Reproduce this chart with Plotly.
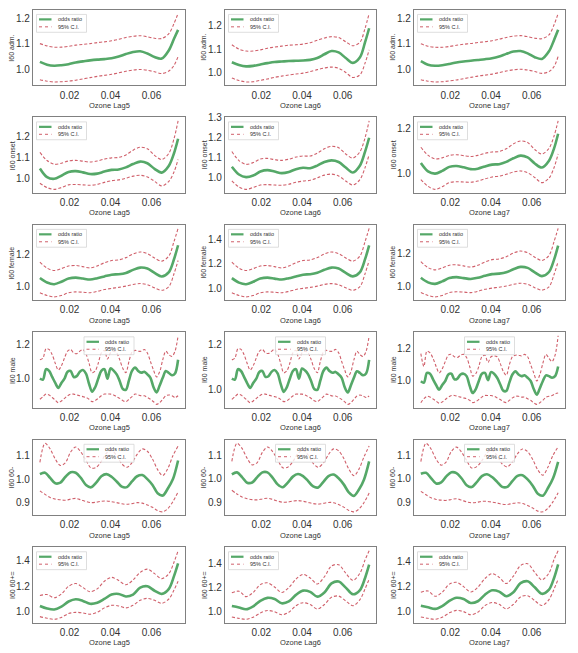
import plotly.graph_objects as go

W, H = 578, 653
GREEN = "#55a868"
RED = "#d0606b"
FRAME = "#808080"
TXT = "#333333"
FONT = "Liberation Sans, Arial, sans-serif"

# ---------------- x grids (ozone concentration) ----------------
X_SMOOTH = [0.0055, 0.009, 0.0125, 0.016, 0.0195, 0.023, 0.0265, 0.030, 0.0335, 0.037,
            0.0405, 0.044, 0.0475, 0.051, 0.0545, 0.058, 0.0615, 0.065, 0.0685, 0.071, 0.073]
X_MALE = [0.0055, 0.007, 0.0085, 0.01, 0.0115, 0.013, 0.0145, 0.016, 0.0175, 0.019,
          0.0205, 0.022, 0.0235, 0.025, 0.0265, 0.028, 0.0295, 0.031, 0.0325, 0.034,
          0.0355, 0.037, 0.0385, 0.04, 0.0415, 0.043, 0.0445, 0.046, 0.0475, 0.049,
          0.0505, 0.052, 0.0535, 0.055, 0.0565, 0.058, 0.0595, 0.061, 0.0625, 0.064,
          0.0655, 0.067, 0.0685, 0.07, 0.0715, 0.073]
X_60M = [0.0055, 0.008, 0.0105, 0.013, 0.0155, 0.018, 0.0205, 0.023, 0.0255, 0.028,
         0.0305, 0.033, 0.0355, 0.038, 0.0405, 0.043, 0.0455, 0.048, 0.0505, 0.053,
         0.0555, 0.058, 0.0605, 0.063, 0.0655, 0.068, 0.0705, 0.073]

# ---------------- I60 adm. ----------------
ADM_L5_OR = [1.029, 1.018, 1.014, 1.016, 1.020, 1.027, 1.031, 1.035, 1.038, 1.040, 1.043, 1.050, 1.060, 1.068, 1.071, 1.062, 1.048, 1.042, 1.075, 1.12, 1.155]
ADM_L5_HI = [1.101, 1.092, 1.087, 1.087, 1.090, 1.095, 1.098, 1.101, 1.105, 1.108, 1.112, 1.118, 1.125, 1.130, 1.132, 1.128, 1.122, 1.121, 1.14, 1.18, 1.22]
ADM_L5_LO = [0.959, 0.953, 0.950, 0.951, 0.953, 0.957, 0.962, 0.967, 0.972, 0.976, 0.980, 0.986, 0.992, 0.997, 0.999, 0.996, 0.990, 0.983, 0.993, 1.015, 1.05]
ADM_L6_OR = [1.044, 1.032, 1.026, 1.028, 1.034, 1.040, 1.045, 1.047, 1.049, 1.050, 1.051, 1.054, 1.062, 1.078, 1.092, 1.086, 1.062, 1.041, 1.065, 1.13, 1.19]
ADM_L6_HI = [1.119, 1.10, 1.092, 1.092, 1.097, 1.104, 1.109, 1.113, 1.117, 1.119, 1.122, 1.128, 1.138, 1.148, 1.154, 1.150, 1.132, 1.115, 1.13, 1.19, 1.254]
ADM_L6_LO = [0.976, 0.965, 0.959, 0.960, 0.966, 0.972, 0.979, 0.984, 0.989, 0.993, 0.997, 1.004, 1.012, 1.019, 1.023, 1.018, 1.000, 0.978, 0.99, 1.04, 1.097]
ADM_L7_OR = [1.031, 1.017, 1.013, 1.015, 1.020, 1.026, 1.030, 1.033, 1.036, 1.039, 1.043, 1.050, 1.060, 1.069, 1.071, 1.062, 1.047, 1.040, 1.07, 1.115, 1.155]
ADM_L7_HI = [1.10, 1.090, 1.086, 1.086, 1.089, 1.094, 1.098, 1.101, 1.105, 1.108, 1.112, 1.118, 1.125, 1.130, 1.132, 1.128, 1.122, 1.120, 1.135, 1.175, 1.22]
ADM_L7_LO = [0.958, 0.952, 0.949, 0.950, 0.953, 0.957, 0.962, 0.967, 0.972, 0.976, 0.980, 0.986, 0.992, 0.997, 0.999, 0.996, 0.990, 0.983, 0.99, 1.01, 1.05]

# ---------------- I60 onset ----------------
ONS_L5_OR = [1.047, 1.005, 0.997, 1.012, 1.030, 1.034, 1.028, 1.020, 1.022, 1.032, 1.040, 1.042, 1.052, 1.068, 1.080, 1.072, 1.045, 1.027, 1.06, 1.12, 1.19]
ONS_L5_HI = [1.124, 1.085, 1.067, 1.072, 1.083, 1.086, 1.082, 1.078, 1.083, 1.092, 1.098, 1.100, 1.112, 1.135, 1.149, 1.142, 1.110, 1.090, 1.12, 1.19, 1.276]
ONS_L5_LO = [0.976, 0.955, 0.946, 0.955, 0.968, 0.970, 0.968, 0.966, 0.970, 0.980, 0.988, 0.992, 1.000, 1.010, 1.014, 1.006, 0.985, 0.963, 0.985, 1.03, 1.09]
ONS_L6_OR = [1.054, 1.015, 1.002, 1.010, 1.030, 1.037, 1.030, 1.022, 1.028, 1.042, 1.049, 1.047, 1.060, 1.078, 1.086, 1.078, 1.050, 1.025, 1.06, 1.13, 1.20]
ONS_L6_HI = [1.131, 1.085, 1.066, 1.075, 1.093, 1.096, 1.090, 1.086, 1.092, 1.103, 1.108, 1.108, 1.122, 1.145, 1.157, 1.150, 1.118, 1.098, 1.13, 1.20, 1.285]
ONS_L6_LO = [0.983, 0.952, 0.940, 0.950, 0.962, 0.964, 0.962, 0.961, 0.966, 0.976, 0.982, 0.986, 0.998, 1.012, 1.017, 1.008, 0.982, 0.962, 0.99, 1.05, 1.115]
ONS_L7_OR = [1.045, 1.008, 0.998, 1.010, 1.028, 1.032, 1.026, 1.018, 1.020, 1.030, 1.038, 1.040, 1.050, 1.066, 1.078, 1.070, 1.043, 1.025, 1.055, 1.11, 1.175]
ONS_L7_HI = [1.115, 1.08, 1.063, 1.068, 1.079, 1.082, 1.078, 1.074, 1.079, 1.088, 1.094, 1.096, 1.108, 1.13, 1.143, 1.136, 1.105, 1.085, 1.11, 1.165, 1.232]
ONS_L7_LO = [0.972, 0.942, 0.928, 0.94, 0.958, 0.962, 0.961, 0.96, 0.965, 0.975, 0.983, 0.987, 0.995, 1.005, 1.01, 1.002, 0.981, 0.958, 0.978, 1.025, 1.085]

# ---------------- I60 female ----------------
FEM_L5_OR = [1.053, 1.025, 1.015, 1.030, 1.050, 1.056, 1.050, 1.044, 1.052, 1.063, 1.074, 1.077, 1.085, 1.104, 1.118, 1.112, 1.085, 1.063, 1.09, 1.17, 1.257]
FEM_L5_HI = [1.152, 1.115, 1.100, 1.112, 1.128, 1.131, 1.124, 1.116, 1.128, 1.148, 1.162, 1.166, 1.180, 1.203, 1.215, 1.205, 1.178, 1.158, 1.19, 1.28, 1.362]
FEM_L5_LO = [0.962, 0.945, 0.936, 0.945, 0.962, 0.967, 0.965, 0.962, 0.970, 0.982, 0.989, 0.995, 1.003, 1.013, 1.019, 1.012, 0.992, 0.977, 1.00, 1.08, 1.162]
FEM_L6_OR = [1.082, 1.045, 1.032, 1.052, 1.078, 1.086, 1.078, 1.070, 1.081, 1.096, 1.110, 1.114, 1.125, 1.150, 1.168, 1.160, 1.125, 1.096, 1.131, 1.237, 1.351]
FEM_L6_HI = [1.213, 1.164, 1.144, 1.160, 1.181, 1.185, 1.176, 1.165, 1.181, 1.208, 1.226, 1.231, 1.250, 1.280, 1.296, 1.283, 1.247, 1.221, 1.263, 1.382, 1.490]
FEM_L6_LO = [0.962, 0.940, 0.928, 0.940, 0.962, 0.969, 0.966, 0.962, 0.973, 0.989, 0.998, 1.006, 1.016, 1.030, 1.037, 1.028, 1.002, 0.982, 1.012, 1.118, 1.226]
FEM_L7_OR = [1.05, 1.022, 1.013, 1.028, 1.048, 1.054, 1.048, 1.043, 1.05, 1.062, 1.072, 1.075, 1.083, 1.102, 1.116, 1.11, 1.083, 1.06, 1.085, 1.16, 1.245]
FEM_L7_HI = [1.148, 1.112, 1.098, 1.11, 1.126, 1.129, 1.122, 1.115, 1.126, 1.146, 1.16, 1.164, 1.178, 1.2, 1.212, 1.202, 1.175, 1.155, 1.185, 1.27, 1.35]
FEM_L7_LO = [0.96, 0.943, 0.934, 0.943, 0.96, 0.965, 0.963, 0.96, 0.968, 0.98, 0.987, 0.993, 1.0, 1.01, 1.017, 1.01, 0.99, 0.975, 0.995, 1.07, 1.15]

# ---------------- I60 male ----------------
MAL_L5_OR = [1.0, 0.995, 1.055, 1.045, 1.01, 0.975, 0.946, 0.975, 1.0, 1.04, 1.045, 1.01, 1.015, 1.04, 1.05, 1.03,
             0.97, 0.924, 0.95, 1.0, 1.045, 1.055, 1.0, 1.06, 1.047, 1.025, 0.985, 0.94, 0.935, 0.99, 1.045, 1.065,
             1.045, 1.035, 1.04, 1.025, 1.005, 0.95, 0.92, 0.96, 1.005, 1.044, 1.033, 1.02, 1.03, 1.11]
MAL_L5_HI = [1.11, 1.12, 1.175, 1.17, 1.14, 1.09, 1.05, 1.075, 1.12, 1.16, 1.17, 1.15, 1.146, 1.16, 1.17, 1.145,
             1.09, 1.035, 1.045, 1.09, 1.15, 1.165, 1.115, 1.15, 1.16, 1.15, 1.11, 1.06, 1.035, 1.10, 1.155, 1.165,
             1.16, 1.16, 1.17, 1.15, 1.10, 1.05, 1.01, 1.04, 1.11, 1.16, 1.14, 1.13, 1.16, 1.25]
MAL_L5_LO = [0.88, 0.895, 0.91, 0.905, 0.89, 0.875, 0.86, 0.87, 0.885, 0.90, 0.91, 0.91, 0.905, 0.90, 0.895, 0.89,
             0.88, 0.866, 0.872, 0.885, 0.90, 0.91, 0.91, 0.91, 0.905, 0.895, 0.885, 0.872, 0.866, 0.88, 0.895, 0.91,
             0.905, 0.90, 0.90, 0.89, 0.88, 0.865, 0.85, 0.86, 0.88, 0.90, 0.905, 0.90, 0.89, 0.90]
MAL_L6_OR = [1.048, 1.044, 1.090, 1.082, 1.056, 1.029, 1.007, 1.029, 1.048, 1.078, 1.082, 1.056, 1.059, 1.078, 1.086, 1.071,
             1.025, 0.990, 1.010, 1.048, 1.082, 1.090, 1.048, 1.093, 1.084, 1.067, 1.037, 1.003, 0.999, 1.040, 1.082, 1.097,
             1.082, 1.074, 1.078, 1.067, 1.052, 1.010, 0.987, 1.018, 1.052, 1.081, 1.073, 1.063, 1.071, 1.131]
MAL_L6_HI = [1.131, 1.139, 1.180, 1.177, 1.154, 1.116, 1.086, 1.105, 1.139, 1.169, 1.177, 1.162, 1.159, 1.169, 1.177, 1.158,
             1.116, 1.074, 1.082, 1.116, 1.162, 1.173, 1.135, 1.162, 1.169, 1.162, 1.131, 1.093, 1.074, 1.124, 1.165, 1.173,
             1.169, 1.169, 1.177, 1.162, 1.124, 1.086, 1.056, 1.078, 1.131, 1.169, 1.154, 1.146, 1.169, 1.237]
MAL_L6_LO = [0.957, 0.969, 0.980, 0.976, 0.965, 0.953, 0.942, 0.950, 0.961, 0.972, 0.980, 0.980, 0.976, 0.972, 0.969, 0.965,
             0.957, 0.947, 0.951, 0.961, 0.972, 0.980, 0.980, 0.980, 0.976, 0.969, 0.961, 0.951, 0.947, 0.957, 0.969, 0.980,
             0.976, 0.972, 0.972, 0.965, 0.957, 0.946, 0.935, 0.942, 0.957, 0.972, 0.976, 0.972, 0.965, 0.972]
MAL_L7_OR = [0.998, 0.99, 1.05, 1.045, 1.01, 0.975, 0.946, 0.975, 1.0, 1.04, 1.045, 1.01, 1.015, 1.04, 1.045, 1.03,
             0.97, 0.925, 0.95, 1.0, 1.045, 1.05, 1.005, 1.055, 1.045, 1.02, 0.98, 0.94, 0.938, 0.99, 1.04, 1.06,
             1.04, 1.03, 1.035, 1.02, 1.0, 0.95, 0.915, 0.955, 1.0, 1.035, 1.03, 1.02, 1.03, 1.09]
MAL_L7_HI = [1.17, 1.09, 1.185, 1.175, 1.14, 1.09, 1.05, 1.075, 1.12, 1.16, 1.165, 1.15, 1.146, 1.16, 1.165, 1.145,
             1.09, 1.03, 1.045, 1.09, 1.15, 1.16, 1.115, 1.15, 1.155, 1.15, 1.11, 1.06, 1.035, 1.10, 1.15, 1.16,
             1.16, 1.155, 1.165, 1.15, 1.10, 1.05, 1.0, 1.04, 1.11, 1.165, 1.14, 1.12, 1.16, 1.28]
MAL_L7_LO = [0.865, 0.89, 0.905, 0.9, 0.888, 0.875, 0.862, 0.87, 0.885, 0.90, 0.91, 0.91, 0.905, 0.90, 0.895, 0.89,
             0.88, 0.866, 0.872, 0.885, 0.90, 0.91, 0.91, 0.91, 0.905, 0.895, 0.885, 0.872, 0.866, 0.88, 0.895, 0.905,
             0.905, 0.90, 0.90, 0.89, 0.88, 0.865, 0.855, 0.865, 0.88, 0.90, 0.905, 0.91, 0.92, 0.925]

# ---------------- I60 60- ----------------
U60_L5_OR = [1.021, 1.027, 1.005, 0.982, 0.985, 1.01, 1.029, 1.027, 1.005, 0.975, 0.965, 0.985, 1.012, 1.021,
             1.01, 0.99, 0.968, 0.966, 0.99, 1.012, 1.017, 1.0, 0.975, 0.94, 0.93, 0.96, 1.0, 1.079]
U60_L5_HI = [1.071, 1.152, 1.128, 1.085, 1.058, 1.07, 1.115, 1.136, 1.115, 1.08, 1.047, 1.05, 1.075, 1.11,
             1.121, 1.10, 1.065, 1.05, 1.07, 1.105, 1.128, 1.118, 1.085, 1.04, 1.015, 1.045, 1.10, 1.14]
U60_L5_LO = [0.95, 0.935, 0.922, 0.915, 0.912, 0.91, 0.915, 0.918, 0.912, 0.905, 0.90, 0.902, 0.906, 0.907,
             0.904, 0.90, 0.895, 0.893, 0.896, 0.90, 0.898, 0.89, 0.88, 0.866, 0.861, 0.875, 0.905, 0.945]
U60_L6_OR = [1.02, 1.028, 1.008, 0.984, 0.985, 1.008, 1.028, 1.028, 1.006, 0.977, 0.965, 0.984, 1.01, 1.021,
             1.012, 0.991, 0.968, 0.964, 0.988, 1.012, 1.019, 1.003, 0.977, 0.943, 0.928, 0.955, 0.998, 1.075]
U60_L6_HI = [1.075, 1.152, 1.13, 1.088, 1.06, 1.07, 1.113, 1.136, 1.117, 1.082, 1.048, 1.05, 1.074, 1.108,
             1.122, 1.102, 1.066, 1.05, 1.068, 1.104, 1.128, 1.12, 1.088, 1.042, 1.014, 1.042, 1.095, 1.14]
U60_L6_LO = [0.952, 0.936, 0.923, 0.916, 0.912, 0.911, 0.915, 0.918, 0.913, 0.906, 0.901, 0.902, 0.906, 0.908,
             0.905, 0.9, 0.895, 0.893, 0.896, 0.9, 0.899, 0.891, 0.88, 0.866, 0.86, 0.872, 0.9, 0.94]
U60_L7_OR = [1.022, 1.026, 1.004, 0.981, 0.986, 1.011, 1.028, 1.025, 1.003, 0.974, 0.966, 0.987, 1.012, 1.02,
             1.008, 0.988, 0.967, 0.967, 0.991, 1.013, 1.016, 0.998, 0.972, 0.938, 0.93, 0.962, 1.003, 1.072]
U60_L7_HI = [1.073, 1.15, 1.126, 1.083, 1.058, 1.072, 1.116, 1.134, 1.113, 1.078, 1.046, 1.052, 1.077, 1.11,
             1.12, 1.098, 1.063, 1.051, 1.072, 1.106, 1.126, 1.115, 1.082, 1.038, 1.016, 1.05, 1.1, 1.135]
U60_L7_LO = [0.948, 0.934, 0.921, 0.914, 0.911, 0.91, 0.914, 0.917, 0.911, 0.904, 0.9, 0.902, 0.906, 0.906,
             0.903, 0.899, 0.894, 0.893, 0.897, 0.9, 0.897, 0.889, 0.878, 0.865, 0.862, 0.877, 0.905, 0.942]

# ---------------- I60 60+= ----------------
O60_L5_OR = [1.045, 1.025, 1.017, 1.04, 1.08, 1.098, 1.085, 1.062, 1.07, 1.10, 1.135, 1.14, 1.12, 1.135, 1.19, 1.20, 1.165, 1.14, 1.18, 1.28, 1.38]
O60_L5_HI = [1.127, 1.135, 1.11, 1.14, 1.20, 1.222, 1.19, 1.157, 1.18, 1.24, 1.27, 1.245, 1.212, 1.25, 1.31, 1.335, 1.30, 1.26, 1.30, 1.39, 1.48]
O60_L5_LO = [0.961, 0.948, 0.940, 0.955, 0.985, 0.995, 0.990, 0.98, 0.995, 1.03, 1.05, 1.045, 1.03, 1.05, 1.09, 1.105, 1.09, 1.066, 1.10, 1.17, 1.24]
O60_L6_OR = [1.047, 1.035, 1.02, 1.045, 1.09, 1.115, 1.105, 1.07, 1.085, 1.14, 1.175, 1.165, 1.125, 1.16, 1.235, 1.25, 1.20, 1.145, 1.18, 1.28, 1.39]
O60_L6_HI = [1.158, 1.17, 1.125, 1.16, 1.225, 1.24, 1.205, 1.16, 1.20, 1.27, 1.31, 1.28, 1.23, 1.29, 1.38, 1.39, 1.32, 1.26, 1.32, 1.43, 1.506]
O60_L6_LO = [0.956, 0.945, 0.937, 0.955, 0.99, 1.01, 1.0, 0.975, 0.995, 1.05, 1.075, 1.06, 1.022, 1.06, 1.12, 1.13, 1.09, 1.05, 1.10, 1.19, 1.27]
O60_L7_OR = [1.045, 1.033, 1.02, 1.043, 1.085, 1.11, 1.10, 1.068, 1.082, 1.135, 1.17, 1.16, 1.122, 1.155, 1.228, 1.243, 1.195, 1.142, 1.175, 1.27, 1.38]
O60_L7_HI = [1.155, 1.165, 1.122, 1.155, 1.22, 1.235, 1.2, 1.157, 1.195, 1.265, 1.305, 1.275, 1.225, 1.285, 1.37, 1.385, 1.315, 1.255, 1.31, 1.42, 1.49]
O60_L7_LO = [0.955, 0.944, 0.936, 0.953, 0.988, 1.008, 0.998, 0.973, 0.993, 1.047, 1.072, 1.057, 1.02, 1.057, 1.117, 1.127, 1.087, 1.047, 1.095, 1.18, 1.26]

# ---------------- labels & ticks ----------------
ROW_LABELS = ["I60 adm.", "I60 onset", "I60 female", "I60 male", "I60 60-", "I60 60+="]
COL_LABELS = ["Ozone Lag5", "Ozone Lag6", "Ozone Lag7"]
X_TICKS = [0.02, 0.04, 0.06]
LEGEND_LABELS = ["odds ratio", "95% C.I."]

Y_TICKS = [
    [[1.0, 1.1, 1.2], [1.0, 1.1, 1.2], [1.0, 1.1, 1.2]],
    [[1.0, 1.1, 1.2], [1.0, 1.1, 1.2, 1.3], [1.0, 1.2]],
    [[1.0, 1.2], [1.0, 1.2, 1.4], [1.0, 1.2]],
    [[1.0, 1.2], [1.0, 1.2], [1.0, 1.2]],
    [[0.9, 1.0, 1.1], [0.9, 1.0, 1.1], [0.9, 1.0, 1.1]],
    [[1.0, 1.2, 1.4], [1.0, 1.2, 1.4], [1.0, 1.2, 1.4]],
]

PANELS = [
    [(X_SMOOTH, ADM_L5_OR, ADM_L5_LO, ADM_L5_HI), (X_SMOOTH, ADM_L6_OR, ADM_L6_LO, ADM_L6_HI), (X_SMOOTH, ADM_L7_OR, ADM_L7_LO, ADM_L7_HI)],
    [(X_SMOOTH, ONS_L5_OR, ONS_L5_LO, ONS_L5_HI), (X_SMOOTH, ONS_L6_OR, ONS_L6_LO, ONS_L6_HI), (X_SMOOTH, ONS_L7_OR, ONS_L7_LO, ONS_L7_HI)],
    [(X_SMOOTH, FEM_L5_OR, FEM_L5_LO, FEM_L5_HI), (X_SMOOTH, FEM_L6_OR, FEM_L6_LO, FEM_L6_HI), (X_SMOOTH, FEM_L7_OR, FEM_L7_LO, FEM_L7_HI)],
    [(X_MALE, MAL_L5_OR, MAL_L5_LO, MAL_L5_HI), (X_MALE, MAL_L6_OR, MAL_L6_LO, MAL_L6_HI), (X_MALE, MAL_L7_OR, MAL_L7_LO, MAL_L7_HI)],
    [(X_60M, U60_L5_OR, U60_L5_LO, U60_L5_HI), (X_60M, U60_L6_OR, U60_L6_LO, U60_L6_HI), (X_60M, U60_L7_OR, U60_L7_LO, U60_L7_HI)],
    [(X_SMOOTH, O60_L5_OR, O60_L5_LO, O60_L5_HI), (X_SMOOTH, O60_L6_OR, O60_L6_LO, O60_L6_HI), (X_SMOOTH, O60_L7_OR, O60_L7_LO, O60_L7_HI)],
]
LEGEND_CENTER_ROWS = {3, 4}

# ---------------- geometry (pixels) ----------------
COL_PX = [(33, 185), (225, 376), (414, 565)]
ROW_TOP0, ROW_STEP, ROW_H = 5, 108.3, 76

fig = go.Figure()
layout = {}
shapes = []
annotations = []

for r in range(6):
    for c in range(3):
        i = r * 3 + c + 1
        sfx = "" if i == 1 else str(i)
        xs, orr, lo, hi = PANELS[r][c]
        for ys in (hi, lo):
            fig.add_trace(go.Scatter(
                x=xs, y=ys, xaxis="x" + sfx, yaxis="y" + sfx, mode="lines",
                name=LEGEND_LABELS[1], showlegend=False, hoverinfo="skip",
                line=dict(color=RED, width=1.1, dash="3px,2px", shape="spline", smoothing=0.9)))
        fig.add_trace(go.Scatter(
            x=xs, y=orr, xaxis="x" + sfx, yaxis="y" + sfx, mode="lines",
            name=LEGEND_LABELS[0], showlegend=False,
            line=dict(color=GREEN, width=2.6, shape="spline", smoothing=0.9)))

        x0, x1 = COL_PX[c]
        top = ROW_TOP0 + r * ROW_STEP
        bot = top + ROW_H
        wpx, hpx = x1 - x0, ROW_H
        ymin, ymax = min(lo), max(hi)
        ypad = 0.05 * (ymax - ymin)
        xmin, xmax = min(xs), max(xs)
        xpad = 0.05 * (xmax - xmin)

        layout["xaxis" + sfx] = dict(
            domain=[x0 / W, x1 / W], anchor="y" + sfx, range=[xmin - xpad, xmax + xpad],
            tickvals=X_TICKS, ticktext=[f"{t:.2f}" for t in X_TICKS],
            showgrid=False, zeroline=False, showline=True, mirror=True,
            linecolor=FRAME, linewidth=1.3, ticks="",
            tickfont=dict(family=FONT, size=10, color=TXT), fixedrange=True)
        layout["yaxis" + sfx] = dict(
            domain=[1 - bot / H, 1 - top / H], anchor="x" + sfx, range=[ymin - ypad, ymax + ypad],
            tickvals=Y_TICKS[r][c], ticktext=[f"{t:.1f}" for t in Y_TICKS[r][c]],
            showgrid=False, zeroline=False, showline=True, mirror=True,
            linecolor=FRAME, linewidth=1.3, ticks="",
            tickfont=dict(family=FONT, size=10, color=TXT), fixedrange=True)

        xd, yd = "x" + sfx + " domain", "y" + sfx + " domain"
        annotations.append(dict(xref=xd, yref=yd, x=0.5, y=-20 / hpx, text=COL_LABELS[c],
                                showarrow=False, xanchor="center", yanchor="middle",
                                font=dict(family=FONT, size=7.5, color=TXT)))
        annotations.append(dict(xref=xd, yref=yd, x=-21 / wpx, y=0.5, text=ROW_LABELS[r],
                                showarrow=False, xanchor="center", yanchor="middle", textangle=-90,
                                font=dict(family=FONT, size=7, color=TXT)))
        bw, bh = 50, 18
        bx = (wpx - bw) / 2 if r in LEGEND_CENTER_ROWS else 3.5
        by = 4.5
        shapes.append(dict(type="rect", xref=xd, yref=yd,
                           x0=bx / wpx, x1=(bx + bw) / wpx,
                           y0=1 - by / hpx, y1=1 - (by + bh) / hpx,
                           line=dict(color="#d5d5d5", width=0.8), fillcolor="rgba(255,255,255,0.8)"))
        for k, (col, dash, lw) in enumerate([(GREEN, "solid", 2.2), (RED, "dot", 1.0)]):
            ly = by + 5 + k * 7.5
            shapes.append(dict(type="line", xref=xd, yref=yd,
                               x0=(bx + 2.5) / wpx, x1=(bx + 15) / wpx,
                               y0=1 - ly / hpx, y1=1 - ly / hpx,
                               line=dict(color=col, width=lw, dash=dash)))
            annotations.append(dict(xref=xd, yref=yd, x=(bx + 19) / wpx, y=1 - ly / hpx,
                                    text=LEGEND_LABELS[k], showarrow=False,
                                    xanchor="left", yanchor="middle",
                                    font=dict(family=FONT, size=5.5, color=TXT)))

fig.update_layout(
    width=W, height=H, margin=dict(l=0, r=0, t=0, b=0),
    paper_bgcolor="white", plot_bgcolor="white", showlegend=False,
    shapes=shapes, annotations=annotations, **layout)

fig.write_html("out.html", config={"displayModeBar": False},
               post_script="document.body.style.margin='0';")
